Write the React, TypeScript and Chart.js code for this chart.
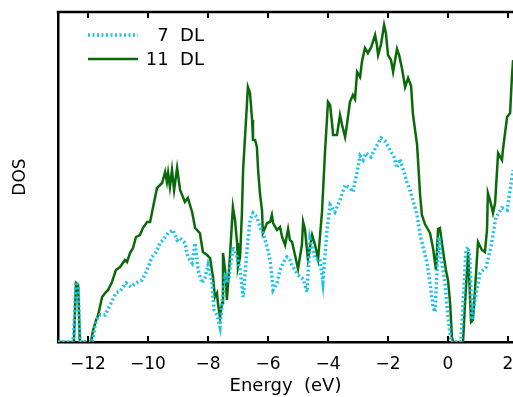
import React, { useEffect, useRef } from "react";
import { Chart, registerables } from "chart.js";

Chart.register(...registerables);

// Energy (eV) and DOS (arbitrary units)
const energy11 = [
  -13.0, -12.47, -12.4, -12.33, -12.27, -11.9, -11.83, -11.73, -11.67, -11.53, -11.43, -11.33, -11.2, -11.07,
  -10.93, -10.77, -10.7, -10.6, -10.5, -10.4, -10.27, -10.17, -10.03, -9.93, -9.83, -9.7, -9.53, -9.43, -9.37,
  -9.33, -9.27, -9.2, -9.13, -9.03, -8.93, -8.77, -8.67, -8.53, -8.43, -8.37, -8.27, -8.17, -8.03, -7.93, -7.83,
  -7.77, -7.7, -7.67, -7.6, -7.53, -7.5, -7.43, -7.37, -7.33, -7.27, -7.17, -7.1, -7.03, -7.0, -6.93, -6.87,
  -6.83, -6.7, -6.67, -6.6, -6.53, -6.5, -6.43, -6.37, -6.33, -6.27, -6.2, -6.17, -6.03, -5.93, -5.87, -5.83,
  -5.7, -5.6, -5.53, -5.43, -5.33, -5.27, -5.2, -5.1, -5.0, -4.87, -4.83, -4.77, -4.67, -4.53, -4.43, -4.33,
  -4.2, -4.1, -4.0, -3.93, -3.87, -3.83, -3.7, -3.6, -3.53, -3.43, -3.37, -3.27, -3.17, -3.1, -3.03, -2.93,
  -2.87, -2.77, -2.67, -2.57, -2.43, -2.37, -2.33, -2.23, -2.13, -2.07, -2.0, -1.9, -1.83, -1.7, -1.63, -1.53,
  -1.43, -1.33, -1.23, -1.17, -1.03, -0.93, -0.87, -0.77, -0.6, -0.5, -0.4, -0.33, -0.27, -0.17, -0.07, 0.0,
  0.07, 0.13, 0.17, 0.5, 0.57, 0.67, 0.77, 0.83, 0.9, 1.0, 1.13, 1.23, 1.3, 1.33, 1.4, 1.5, 1.57, 1.67, 1.8,
  1.83, 1.97, 2.07, 2.13, 2.17,
];
const dos11 = [
  0, 0, 59, 57, 0, 0, 12, 22, 26, 45, 49, 52, 60, 72,
  75, 82, 80, 89, 94, 105, 107, 114, 120, 120, 135, 154, 159, 170, 160,
  169, 155, 172, 152, 174, 152, 140, 144, 130, 114, 112, 109, 90, 87, 84, 64,
  45, 49, 39, 25, 39, 89, 72, 42, 59, 85, 135, 122, 99, 75, 85, 129,
  172, 239, 255, 249, 222, 202, 202, 195, 172, 149, 132, 109, 119, 120, 127, 119,
  112, 115, 105, 97, 113, 102, 100, 87, 73, 97, 120, 113, 83, 107, 97, 83,
  130, 190, 240, 237, 220, 207, 207, 227, 217, 205, 217, 240, 247, 243, 270, 265,
  280, 294, 289, 294, 307, 297, 287, 298, 317, 309, 287, 282, 270, 293, 287, 273,
  255, 264, 256, 228, 197, 147, 127, 118, 109, 94, 72, 113, 114, 92, 72, 62,
  39, 5, 0, 0, 40, 90, 20, 22, 52, 100, 92, 90, 112, 149, 142, 129, 139, 189, 182,
  192, 225, 229, 265, 282,
];

const energy7 = [
  -13.0, -12.5, -12.47, -12.4, -12.33, -12.27, -11.87, -11.83, -11.73, -11.6, -11.43, -11.23, -11.07, -10.93,
  -10.83, -10.73, -10.57, -10.4, -10.2, -10.03, -9.87, -9.73, -9.6, -9.5, -9.33, -9.17, -9.03, -8.93, -8.77,
  -8.67, -8.53, -8.43, -8.33, -8.2, -8.1, -8.0, -7.87, -7.8, -7.7, -7.6, -7.53, -7.43, -7.33, -7.17, -7.03,
  -6.93, -6.83, -6.7, -6.6, -6.5, -6.37, -6.27, -6.17, -6.03, -5.93, -5.87, -5.83, -5.7, -5.6, -5.5, -5.37,
  -5.27, -5.2, -5.0, -4.83, -4.7, -4.6, -4.43, -4.27, -4.17, -4.03, -3.93, -3.77, -3.6, -3.43, -3.27, -3.17,
  -3.03, -2.93, -2.83, -2.73, -2.57, -2.4, -2.23, -2.1, -2.0, -1.9, -1.8, -1.7, -1.6, -1.5, -1.37, -1.27,
  -1.17, -1.03, -0.93, -0.83, -0.7, -0.6, -0.5, -0.43, -0.4, -0.3, -0.23, -0.1, 0.0, 0.1, 0.43, 0.6, 0.67,
  0.73, 0.8, 0.9, 1.07, 1.27, 1.43, 1.6, 1.8, 1.97, 2.07, 2.17,
];
const dos7 = [
  0, 0, 12, 60, 57, 0, 0, 4, 22, 27, 27, 39, 49, 51,
  55, 59, 55, 59, 62, 72, 85, 90, 99, 102, 109, 112, 102, 104, 99,
  85, 79, 99, 72, 59, 64, 77, 60, 32, 27, 15, 39, 65, 59, 95, 85,
  72, 45, 92, 122, 129, 125, 115, 109, 95, 82, 65, 52, 59, 72, 79, 85,
  82, 77, 67, 63, 50, 103, 83, 83, 60, 113, 137, 130, 142, 157, 154, 150,
  170, 186, 182, 189, 185, 195, 204, 201, 196, 190, 185, 174, 183, 173, 160, 152,
  142, 127, 107, 95, 79, 59, 35, 30, 52, 105, 85, 59, 25, 0, 0, 92, 95,
  82, 22, 42, 69, 75, 95, 125, 134, 132, 152, 172,
];

const xTicks = [-12, -10, -8, -6, -4, -2, 0, 2];
const seriesNames = ["7  DL", "11  DL"];
const xTitle = "Energy  (eV)";
const yTitle = "DOS";

const CYAN = "#1fc2e8";
const GREEN = "#0a6a0a";
const FONT = "DejaVu Sans";

const framePlugin = {
  id: "frame",
  afterDraw(chart: any) {
    const { ctx, chartArea } = chart;
    const xs = chart.scales.x;
    ctx.save();
    ctx.strokeStyle = "#000";
    ctx.lineWidth = 2.5;
    ctx.beginPath();
    ctx.moveTo(chartArea.left - 1.25, chartArea.top);
    ctx.lineTo(chartArea.right + 2, chartArea.top);
    ctx.stroke();
    ctx.lineWidth = 2;
    for (const v of xTicks) {
      const px = xs.getPixelForValue(v);
      ctx.beginPath();
      ctx.moveTo(px, chartArea.bottom);
      ctx.lineTo(px, chartArea.bottom - 6);
      ctx.moveTo(px, chartArea.top);
      ctx.lineTo(px, chartArea.top + 6);
      ctx.stroke();
    }
    // legend
    const lx0 = chartArea.left + 30;
    const lx1 = chartArea.left + 80;
    const ty = [chartArea.top + 23, chartArea.top + 47];
    const colors = [CYAN, GREEN];
    for (let i = 0; i < 2; i++) {
      ctx.beginPath();
      ctx.strokeStyle = colors[i];
      ctx.lineWidth = i === 0 ? 3.5 : 2.5;
      ctx.setLineDash(i === 0 ? [2, 2.5] : []);
      ctx.moveTo(lx0, ty[i]);
      ctx.lineTo(lx1, ty[i]);
      ctx.stroke();
    }
    ctx.setLineDash([]);
    ctx.fillStyle = "#000";
    ctx.font = `18px "${FONT}"`;
    ctx.textBaseline = "middle";
    ctx.textAlign = "right";
    ctx.fillText(seriesNames[0], chartArea.left + 146, ty[0] + 1);
    ctx.fillText(seriesNames[1], chartArea.left + 146, ty[1] + 1);
    ctx.restore();
  },
};

export default function App() {
  const ref = useRef<HTMLCanvasElement | null>(null);
  useEffect(() => {
    if (!ref.current) return;
    const chart = new Chart(ref.current, {
      type: "line",
      data: {
        datasets: [
          {
            label: seriesNames[0],
            data: energy7.map((e, i) => ({ x: e, y: dos7[i] })),
            borderColor: CYAN,
            borderWidth: 3.5,
            borderDash: [2, 2.5],
            pointRadius: 0,
            fill: false,
            order: 0,
          },
          {
            label: seriesNames[1],
            data: energy11.map((e, i) => ({ x: e, y: dos11[i] })),
            borderColor: GREEN,
            borderWidth: 2.5,
            pointRadius: 0,
            fill: false,
            order: 1,
          },
        ],
      },
      options: {
        animation: false,
        responsive: false,
        layout: { padding: { top: 12, right: 0, left: 0, bottom: 0 } },
        plugins: { legend: { display: false }, tooltip: { enabled: false } },
        elements: { line: { tension: 0 } },
        scales: {
          x: {
            type: "linear",
            min: -13,
            max: 2.1667,
            afterBuildTicks: (s: any) => {
              s.ticks = xTicks.map((v) => ({ value: v }));
            },
            afterFit: (s: any) => {
              s.height = 55;
              s.paddingLeft = 0;
              s.paddingRight = 0;
            },
            grid: { display: false, drawTicks: false },
            border: { display: true, color: "#000", width: 2.5 },
            ticks: {
              padding: 12,
              color: "#000",
              autoSkip: false,
              maxRotation: 0,
              font: { family: FONT, size: 17 },
              callback: (v: any) => (Number(v) < 0 ? "\u2212" + Math.abs(Number(v)) : String(v)),
            },
            title: {
              display: true,
              text: xTitle,
              color: "#000",
              font: { family: FONT, size: 18 },
              padding: 0,
            },
          },
          y: {
            min: 0,
            max: 330,
            afterFit: (s: any) => {
              s.width = 58;
              s.paddingTop = 0;
              s.paddingBottom = 0;
            },
            grid: { display: false, drawTicks: false },
            border: { display: true, color: "#000", width: 2.5 },
            ticks: { display: false },
            title: {
              display: true,
              text: yTitle,
              color: "#000",
              font: { family: FONT, size: 17 },
              padding: { top: 10, bottom: 0 },
            },
          },
        },
      },
      plugins: [framePlugin],
    });
    return () => chart.destroy();
  }, []);
  return (
    <div style={{ position: "fixed", left: 0, top: 0, width: 513, height: 397, background: "#fff" }}>
      <canvas ref={ref} width={513} height={397} style={{ display: "block" }} />
    </div>
  );
}
